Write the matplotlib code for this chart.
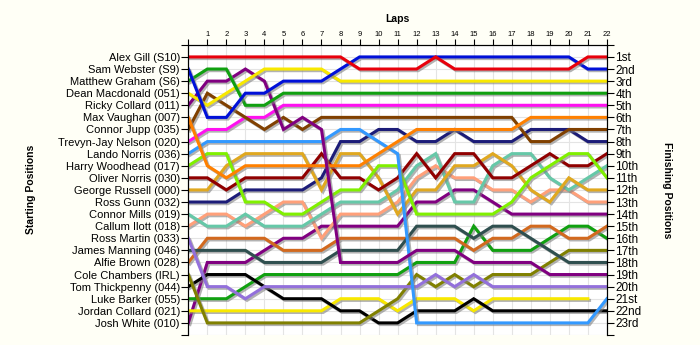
import numpy as np
import matplotlib
matplotlib.use("Agg")
import matplotlib.pyplot as plt
import matplotlib.patheffects as pe

plt.rcParams["font.family"] = ["Liberation Sans", "DejaVu Sans"]

drivers = ["Alex Gill (S10)", "Sam Webster (S9)", "Matthew Graham (S6)", "Dean Macdonald (051)",
           "Ricky Collard (011)", "Max Vaughan (007)", "Connor Jupp (035)", "Trevyn-Jay Nelson (020)",
           "Lando Norris (036)", "Harry Woodhead (017)", "Oliver Norris (030)", "George Russell (000)",
           "Ross Gunn (032)", "Connor Mills (019)", "Callum Ilott (018)", "Ross Martin (033)",
           "James Manning (046)", "Alfie Brown (028)", "Cole Chambers (IRL)", "Tom Thickpenny (044)",
           "Luke Barker (055)", "Jordan Collard (021)", "Josh White (010)"]
finish_labels = ["1st", "2nd", "3rd"] + ["%dth" % i for i in range(4, 21)] + ["21st", "22nd", "23rd"]
laps = np.arange(0, 23)

# position at lap 0..22 for each driver (grid order)
gill = [1, 1, 1, 1, 1, 1, 1, 1, 1, 2, 2, 2, 2, 1, 2, 2, 2, 2, 2, 2, 2, 1, 1]
webster = [2, 6, 6, 4, 4, 3, 3, 3, 2, 1, 1, 1, 1, 1, 1, 1, 1, 1, 1, 1, 1, 2, 2]
graham = [3, 2, 2, 5, 5, 4, 4, 4, 4, 4, 4, 4, 4, 4, 4, 4, 4, 4, 4, 4, 4, 4, 4]
macdonald = [4, 5, 4, 3, 2, 2, 2, 2, 3, 3, 3, 3, 3, 3, 3, 3, 3, 3, 3, 3, 3, 3, 3]
r_collard = [5, 3, 3, 2, 3, 7, 6, 7, 18, 18, 18, 18, 17, 17, 17, 18, 18, 18, 18, 19, 19, 19, 19]
vaughan = [6, 10, 11, 10, 10, 10, 10, 10, 10, 10, 9, 8, 7, 7, 7, 7, 7, 7, 6, 6, 6, 6, 6]
jupp = [7, 4, 5, 6, 7, 6, 7, 6, 6, 6, 6, 6, 6, 6, 6, 6, 6, 6, 8, 8, 7, 7, 7]
nelson = [8, 7, 7, 6, 6, 5, 5, 5, 5, 5, 5, 5, 5, 5, 5, 5, 5, 5, 5, 5, 5, 5, 5]
l_norris = [9, 8, 8, 8, 8, 8, 8, 8, 7, 7, 8, 9, 23, 23, 23, 23, 23, 23, 23, 23, 23, 23, 21]
woodhead = [10, 9, 9, 13, 13, 14, 14, 13, 12, 12, 10, 10, 14, 14, 14, 14, 14, 13, 11, 10, 9, 9, 11]
o_norris = [11, 11, 12, 11, 11, 11, 11, 9, 11, 11, 12, 11, 9, 11, 9, 9, 11, 11, 10, 9, 10, 10, 9]
russell = [12, 12, 10, 9, 9, 9, 9, 12, 9, 9, 11, 14, 12, 12, 10, 10, 9, 10, 12, 13, 11, 12, 12]
gunn = [13, 13, 13, 12, 12, 12, 12, 11, 8, 8, 7, 7, 8, 8, 7, 8, 8, 8, 7, 7, 7, 8, 8]
mills = [14, 15, 15, 14, 15, 15, 15, 14, 13, 13, 13, 12, 10, 9, 13, 13, 10, 9, 9, 11, 12, 11, 10]
ilott = [15, 14, 14, 15, 14, 13, 13, 16, 14, 14, 14, 13, 11, 10, 11, 11, 12, 12, 13, 12, 12, 13, 13]
martin = [16, 20, 20, 21, 20, 20, 20, 20, 20, 20, 20, 20, 20, 19, 20, 19, 20, 20, 20, 20, 20, 20, 20]
manning = [17, 17, 17, 17, 18, 18, 18, 18, 17, 17, 17, 17, 15, 15, 15, 16, 15, 15, 16, 17, 18, 18, 18]
brown = [18, 16, 16, 16, 16, 17, 17, 17, 16, 16, 16, 16, 16, 16, 16, 17, 16, 16, 15, 15, 16, 16, 15]
chambers = [19, 23, 23, 23, 23, 23, 23, 23, 23, 23, 22, 21, 19, 20, 19, 20, 19, 19, 19, 18, 17, 17, 17]
thickpenny = [20, 19, 19, 19, 20, 21, 21, 21, 22, 22, 23, 23, 22, 22, 22, 21, 22, 22, 22, 22, 22, 22, 22]
barker = [21, 21, 21, 20, 19, 19, 19, 19, 19, 19, 19, 19, 18, 18, 18, 15, 17, 17, 17, 16, 15, 15, 16]
j_collard = [22, 22, 22, 22, 22, 22, 22, 22, 21, 21, 21, 22, 21, 21, 21, 22, 21, 21, 21, 21, 21, 21, np.nan]
white = [23, 18, 18, 18, 17, 16, 16, 15, 15, 15, 15, 15, 13, 13, 12, 12, 13, 14, 14, 14, 14, 14, 14]

series = [gill, webster, graham, macdonald, r_collard, vaughan, jupp, nelson, l_norris, woodhead,
          o_norris, russell, gunn, mills, ilott, martin, manning, brown, chambers, thickpenny,
          barker, j_collard, white]
colors = ["#e8000c", "#0010d8", "#10a010", "#f8e800", "#800080", "#ff8000", "#804000", "#ff10f0",
          "#3399ff", "#80f000", "#900000", "#e0a820", "#1c1c78", "#66c8a8", "#ffa07a", "#9370db",
          "#2f4f4f", "#d2691e", "#808000", "#000000", "#10a010", "#f8e800", "#800080"]

fig = plt.figure(figsize=(7, 3.45), dpi=100)
fig.patch.set_facecolor("#fffff6")
ax = fig.add_axes([0.269, 0.029, 0.598, 0.841])
ax.set_facecolor("white")

shadow = [pe.SimpleLineShadow(offset=(1.2, -1.2), shadow_color="#808080", alpha=0.6), pe.Normal()]
for s, c in zip(series[::-1], colors[::-1]):
    ax.plot(laps, s, color=c, lw=2.2, solid_joinstyle="miter", path_effects=shadow)

ax.set_xlim(0, 22)
ax.set_ylim(24, 0)
ax.set_xticks(laps)
ax.set_xticklabels([""] + [str(i) for i in laps[1:]])
ax.xaxis.tick_top()
ax.tick_params(axis="x", labelsize=5.5, length=4, pad=1)
ax.set_yticks(range(0, 25))
ax.set_yticklabels([""] + drivers + [""])
ax.tick_params(axis="y", labelsize=8, length=5, pad=1)
ax.grid(True, color="#e4e4e4", lw=0.8)
ax.set_axisbelow(True)
ax.spines["bottom"].set_visible(False)

ax2 = ax.twinx()
ax2.set_ylim(24, 0)
ax2.set_yticks(range(0, 25))
ax2.set_yticklabels([""] + finish_labels + [""])
ax2.tick_params(axis="y", labelsize=8.5, length=5, pad=1)
ax2.spines["bottom"].set_visible(False)

fig.text(0.567, 0.945, "Laps", ha="center", va="center", fontsize=7.5, fontweight="bold")
fig.text(0.045, 0.45, "Starting Positions", ha="center", va="center", rotation=90,
         fontsize=7.5, fontweight="bold")
fig.text(0.953, 0.45, "Finishing Positions", ha="center", va="center", rotation=-90,
         fontsize=7.5, fontweight="bold")

fig.savefig("out.png", dpi=100, facecolor=fig.get_facecolor())
